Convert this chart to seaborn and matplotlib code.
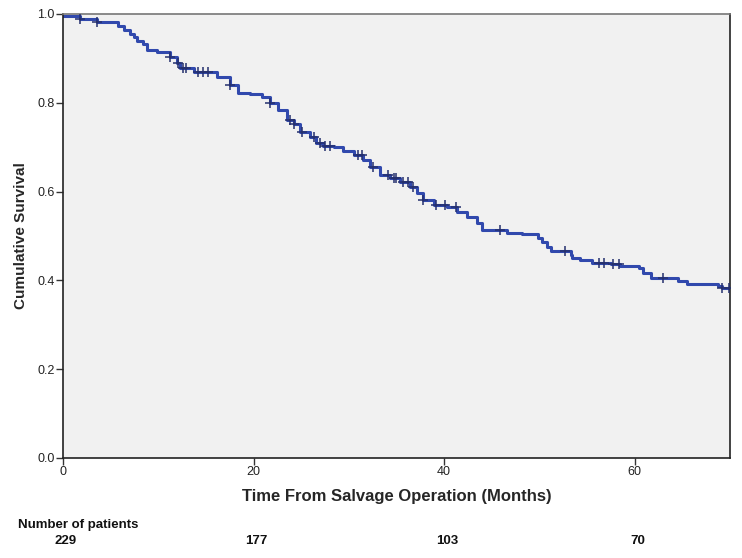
import numpy as np
import pandas as pd
import matplotlib
matplotlib.use("Agg")
import matplotlib.pyplot as plt
import seaborn as sns

# Kaplan-Meier step points (months, survival)
step_times = [0, 1.8, 3.6, 5.8, 6.4, 7.0, 7.4, 7.8, 8.4, 8.8, 9.9, 11.2, 12.0, 12.3,
              13.7, 16.2, 17.5, 18.4, 19.6, 20.9, 21.7, 22.6, 23.5, 24.2, 24.9, 25.9,
              26.6, 27.3, 28.4, 29.4, 30.5, 31.5, 32.2, 33.3, 34.3, 35.4, 36.4, 37.1,
              37.8, 38.9, 40.3, 41.4, 42.4, 43.5, 44.0, 46.6, 48.2, 49.8, 50.3, 50.8,
              51.2, 53.3, 53.4, 54.3, 55.5, 57.5, 58.5, 60.4, 60.9, 61.7, 64.5, 65.5,
              68.7, 69.2, 70.0]
step_surv = [0.996, 0.989, 0.981, 0.972, 0.963, 0.955, 0.948, 0.940, 0.932, 0.920,
             0.914, 0.903, 0.890, 0.879, 0.869, 0.859, 0.840, 0.821, 0.819, 0.814,
             0.799, 0.784, 0.761, 0.753, 0.735, 0.724, 0.709, 0.703, 0.700, 0.692,
             0.682, 0.671, 0.656, 0.637, 0.630, 0.622, 0.611, 0.596, 0.581, 0.570,
             0.566, 0.555, 0.543, 0.529, 0.514, 0.506, 0.504, 0.495, 0.486, 0.476,
             0.467, 0.457, 0.450, 0.446, 0.440, 0.436, 0.433, 0.428, 0.417, 0.405,
             0.399, 0.393, 0.388, 0.382, 0.382]

# censored observations
censor_times = [1.8, 3.6, 11.2, 12.1, 12.6, 12.9, 14.2, 14.7, 15.2, 17.5, 21.7, 23.8,
                24.2, 25.1, 26.3, 27.0, 27.5, 28.0, 31.0, 31.4, 32.5, 34.1, 34.7, 34.9,
                35.7, 36.2, 36.7, 37.8, 39.1, 40.1, 41.2, 45.9, 52.7, 56.2, 56.8, 57.7,
                58.3, 63.0, 69.2, 69.9]

risk_times = [0, 20, 40, 60]
risk_counts = [229, 177, 103, 70]

curve = pd.DataFrame({"time": step_times, "surv": step_surv})
idx = np.searchsorted(step_times, censor_times, side="right") - 1
censored = pd.DataFrame({"time": censor_times, "surv": np.array(step_surv)[idx]})

sns.set_theme(style="white")
plt.rcParams["font.family"] = ["Liberation Sans", "DejaVu Sans"]

fig = plt.figure(figsize=(7.42, 5.58), dpi=100)
ax = fig.add_axes([63 / 742, 100 / 558, 667 / 742, 444 / 558])
ax.set_facecolor("#f1f1f1")

sns.lineplot(data=curve, x="time", y="surv", ax=ax, estimator=None,
             drawstyle="steps-post", color="#3149ad", linewidth=2.2)
sns.scatterplot(data=censored, x="time", y="surv", ax=ax, marker="+",
                color="#25306e", s=55, linewidth=1.1, zorder=3)

ax.set_xlim(0, 70)
ax.set_ylim(0, 1.0)
ax.set_xticks([0, 20, 40, 60])
ax.set_yticks([0.0, 0.2, 0.4, 0.6, 0.8, 1.0])
ax.set_yticklabels(["0.0", "0.2", "0.4", "0.6", "0.8", "1.0"])
ax.tick_params(axis="both", direction="out", length=5, width=1, color="#333333",
               labelsize=9, labelcolor="#222222", left=True, bottom=True, pad=1)
for name, sp in ax.spines.items():
    sp.set_color("#222222" if name in ("left", "bottom", "right") else "#777777")
    sp.set_linewidth(1.2)

ax.set_xlabel("Time From Salvage Operation (Months)", fontsize=12,
              fontweight="bold", labelpad=8)
ax.set_ylabel("Cumulative Survival", fontsize=11, fontweight="bold", labelpad=7)

fig.text(18 / 742, 1 - 525 / 558, "Number of patients", fontsize=9.5,
         fontweight="bold", ha="left", va="center", color="#111111")
for t, n in zip(risk_times, risk_counts):
    ax.annotate(str(n), xy=(t, 0), xycoords=("data", "axes fraction"),
                xytext=(2, -60), textcoords="offset points", ha="center",
                va="center", fontsize=9.5, fontweight="bold", color="#111111")

fig.savefig("out.png", dpi=100)
